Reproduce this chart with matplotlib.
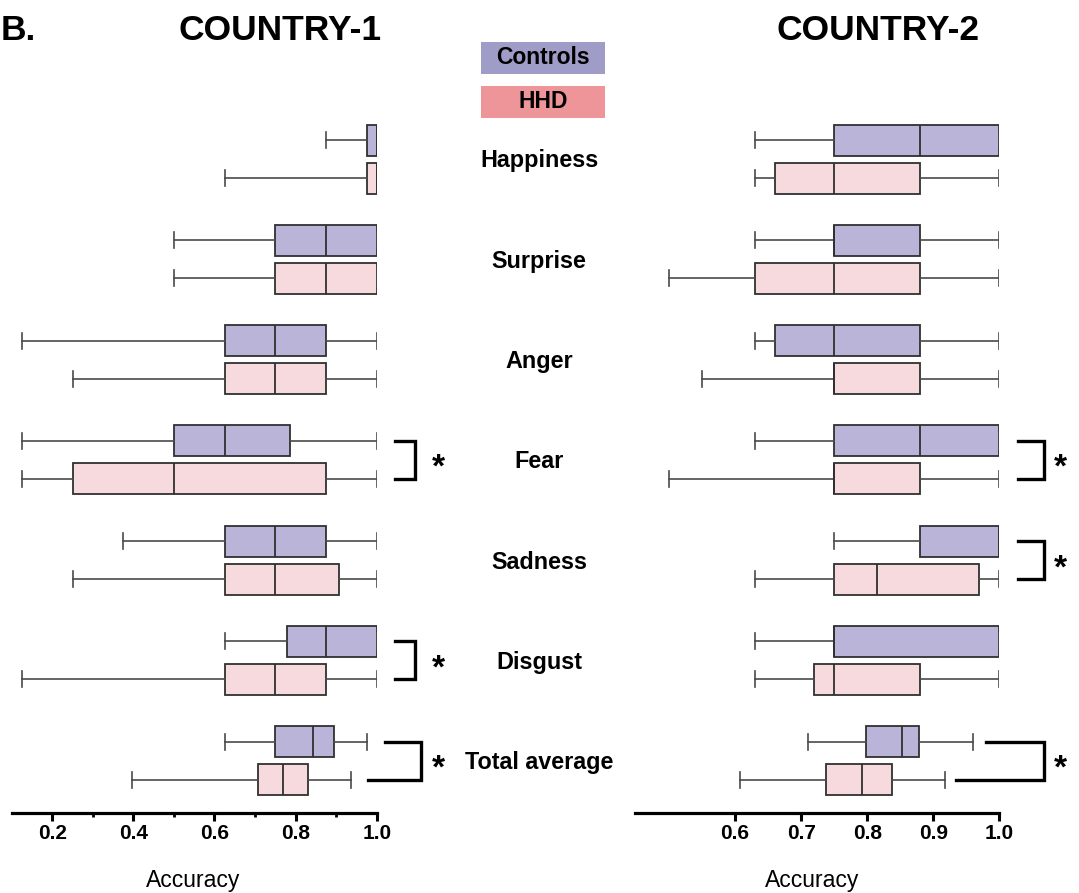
import matplotlib
matplotlib.use("Agg")
import matplotlib.pyplot as plt
from matplotlib.patches import Rectangle
from matplotlib.lines import Line2D
from matplotlib.ticker import FixedLocator

plt.rcParams['font.family'] = ['Liberation Sans', 'DejaVu Sans']

categories = ["Happiness", "Surprise", "Anger", "Fear", "Sadness", "Disgust", "Total average"]

# five-number summaries: [whisker low, Q1, median, Q3, whisker high]
c1_controls = [
    [0.875, 0.975, 1.0, 1.0, 1.0],
    [0.5, 0.75, 0.875, 1.0, 1.0],
    [0.125, 0.625, 0.75, 0.875, 1.0],
    [0.125, 0.5, 0.625, 0.785, 1.0],
    [0.375, 0.625, 0.75, 0.875, 1.0],
    [0.625, 0.78, 0.875, 1.0, 1.0],
    [0.625, 0.75, 0.843, 0.895, 0.975],
]
c1_hhd = [
    [0.625, 0.977, 1.0, 1.0, 1.0],
    [0.5, 0.75, 0.875, 1.0, 1.0],
    [0.25, 0.625, 0.75, 0.875, 1.0],
    [0.125, 0.25, 0.5, 0.875, 1.0],
    [0.25, 0.625, 0.75, 0.906, 1.0],
    [0.125, 0.625, 0.75, 0.875, 1.0],
    [0.397, 0.708, 0.769, 0.831, 0.937],
]
c2_controls = [
    [0.63, 0.75, 0.88, 1.0, 1.0],
    [0.63, 0.75, 0.75, 0.88, 1.0],
    [0.63, 0.66, 0.75, 0.88, 1.0],
    [0.63, 0.75, 0.88, 1.0, 1.0],
    [0.75, 0.88, 1.0, 1.0, 1.0],
    [0.63, 0.75, 0.75, 1.0, 1.0],
    [0.71, 0.798, 0.852, 0.878, 0.96],
]
c2_hhd = [
    [0.63, 0.66, 0.75, 0.88, 1.0],
    [0.5, 0.63, 0.75, 0.88, 1.0],
    [0.55, 0.75, 0.75, 0.88, 1.0],
    [0.5, 0.75, 0.75, 0.88, 1.0],
    [0.63, 0.75, 0.815, 0.97, 1.0],
    [0.63, 0.72, 0.75, 0.88, 1.0],
    [0.607, 0.737, 0.792, 0.837, 0.918],
]
c1_ticks = [0.2, 0.4, 0.6, 0.8, 1.0]
c1_minor = [0.3, 0.5, 0.7, 0.9]
c2_ticks = [0.6, 0.7, 0.8, 0.9, 1.0]
c1_sig = ["Fear", "Disgust", "Total average"]
c2_sig = ["Fear", "Sadness", "Total average"]

CTRL_FILL = "#B9B4D8"
HHD_FILL = "#F7DADE"
CTRL_LEG = "#A09CC8"
HHD_LEG = "#EE959A"

W, H = 1079, 893
fig = plt.figure(figsize=(W / 100, H / 100), dpi=100)


def to_stats(rows):
    return [dict(whislo=r[0], q1=r[1], med=r[2], q3=r[3], whishi=r[4], fliers=[]) for r in rows]


def draw_panel(ax, ctrl, hhd):
    n = len(categories)
    off = 0.19
    for rows, fill, sign in ((ctrl, CTRL_FILL, -1), (hhd, HHD_FILL, 1)):
        pos = [i + sign * off for i in range(n)]
        ax.bxp(to_stats(rows), positions=pos, widths=0.31, orientation='horizontal',
               patch_artist=True, showfliers=False, capwidths=0.16,
               boxprops=dict(facecolor=fill, edgecolor="#303030", linewidth=1.3),
               medianprops=dict(color="#303030", linewidth=1.3),
               whiskerprops=dict(color="#4a4a4a", linewidth=1.2),
               capprops=dict(color="#4a4a4a", linewidth=1.2))
    ax.set_ylim(6.52, -0.5)
    for s in ("top", "right", "left"):
        ax.spines[s].set_visible(False)
    ax.spines["bottom"].set_linewidth(2.3)
    ax.set_yticks([])
    ax.tick_params(axis='x', which='major', length=6, width=2.2, direction='out',
                   labelsize=15, pad=2)
    ax.tick_params(axis='x', which='minor', length=3, width=2.0, direction='out')


def bracket(ax, i, x_top0, x_bot0, x_end, x_star):
    off = 0.19
    y1, y2 = i - off, i + off
    ax.add_line(Line2D([x_top0, x_end, x_end, x_bot0], [y1, y1, y2, y2], color='black',
                       linewidth=2.4, clip_on=False, solid_joinstyle='miter'))
    ax.text(x_star, i + 0.17, "*", fontsize=24, fontweight='bold', ha='center', va='baseline',
            clip_on=False)


ax1 = fig.add_axes([11.7 / W, 1 - 812.7 / H, 365 / W, (812.7 - 109) / H])
ax2 = fig.add_axes([635 / W, 1 - 812.7 / H, 364.3 / W, (812.7 - 109) / H])

draw_panel(ax1, c1_controls, c1_hhd)
ax1.set_xlim(0.1, 1.0)
ax1.xaxis.set_major_locator(FixedLocator(c1_ticks))
ax1.xaxis.set_minor_locator(FixedLocator(c1_minor))
ax1.set_xticklabels([f"{t:.1f}" for t in c1_ticks], fontweight='bold')

draw_panel(ax2, c2_controls, c2_hhd)
ax2.set_xlim(0.4485, 1.0)
ax2.xaxis.set_major_locator(FixedLocator(c2_ticks))
ax2.set_xticklabels([f"{t:.1f}" for t in c2_ticks], fontweight='bold')

for name in c1_sig:
    i = categories.index(name)
    if name == "Total average":
        bracket(ax1, i, 1.021, 0.978, 1.109, 1.151)
    else:
        bracket(ax1, i, 1.045, 1.045, 1.095, 1.151)
for name in c2_sig:
    i = categories.index(name)
    if name == "Total average":
        bracket(ax2, i, 0.98, 0.935, 1.067, 1.092)
    else:
        bracket(ax2, i, 1.029, 1.029, 1.067, 1.092)

# category labels in the middle
for i, c in enumerate(categories):
    y = 159 + 100.3 * i
    fig.text(539 / W, 1 - (y + 2) / H, c, fontsize=16.8, fontweight='bold', ha='center', va='center')

# titles
fig.text(280 / W, 1 - 31 / H, "COUNTRY-1", fontsize=25.5, fontweight='bold', ha='center', va='center')
fig.text(878 / W, 1 - 31 / H, "COUNTRY-2", fontsize=25.5, fontweight='bold', ha='center', va='center')
fig.text(1 / W, 1 - 31 / H, "B.", fontsize=25.5, fontweight='bold', ha='left', va='center')

# axis labels
fig.text(193 / W, 1 - 880 / H, "Accuracy", fontsize=16.5, ha='center', va='center')
fig.text(812 / W, 1 - 880 / H, "Accuracy", fontsize=16.5, ha='center', va='center')

# legend boxes
for (label, col, ytop) in (("Controls", CTRL_LEG, 42), ("HHD", HHD_LEG, 86)):
    fig.patches.append(Rectangle((481 / W, 1 - (ytop + 32) / H), 124 / W, 32 / H,
                                 transform=fig.transFigure, facecolor=col, edgecolor='none'))
    fig.text(543 / W, 1 - (ytop + 16) / H, label, fontsize=16.5, fontweight='bold',
             ha='center', va='center')

fig.savefig("out.png", dpi=100)
